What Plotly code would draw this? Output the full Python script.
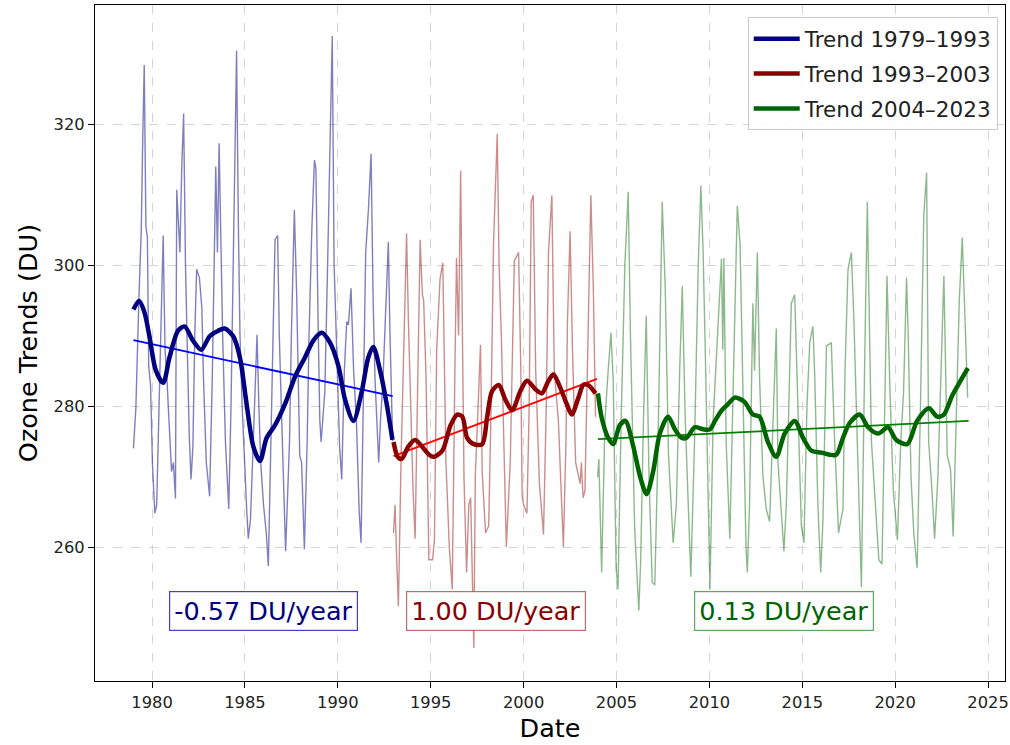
import plotly.graph_objects as go

# ---- Monthly total ozone (DU), traced as vertices of the monthly series ----
p1_years = [1979.00, 1979.13, 1979.30, 1979.42, 1979.50, 1979.58, 1979.67, 1979.75, 1979.82, 1979.92,
            1980.02, 1980.15, 1980.25, 1980.45, 1980.60, 1980.70, 1980.80, 1980.95, 1981.05, 1981.15,
            1981.26, 1981.33, 1981.42, 1981.50, 1981.60, 1981.70, 1981.80, 1981.90, 1982.00, 1982.10,
            1982.20, 1982.30, 1982.40, 1982.55, 1982.68, 1982.77, 1982.92, 1983.10, 1983.25, 1983.43,
            1983.52, 1983.61, 1983.70, 1983.80, 1983.95, 1984.13, 1984.25, 1984.40, 1984.55, 1984.65,
            1984.73, 1984.85, 1985.00, 1985.10, 1985.18, 1985.30, 1985.45, 1985.65, 1985.75, 1985.85,
            1986.00, 1986.15, 1986.26, 1986.35, 1986.50, 1986.62, 1986.76, 1986.85, 1986.98, 1987.19,
            1987.40, 1987.50, 1987.66, 1987.78, 1987.95, 1988.05, 1988.20, 1988.35, 1988.45, 1988.60,
            1988.74, 1988.82, 1988.95, 1989.03, 1989.10, 1989.30, 1989.45, 1989.60, 1989.70, 1989.80,
            1989.90, 1989.99, 1990.10, 1990.21, 1990.35, 1990.48, 1990.57, 1990.71, 1990.85, 1991.00,
            1991.15, 1991.25, 1991.40, 1991.50, 1991.65, 1991.79, 1991.90, 1992.00, 1992.20, 1992.30,
            1992.42, 1992.55, 1992.72, 1992.80, 1992.90, 1992.95]
p1_ozone = [274.0, 279.7, 295.8, 305.0, 318.0, 328.4, 305.4, 304.0, 285.7, 283.0,
            272.0, 264.8, 266.0, 290.0, 304.2, 288.0, 283.9, 276.0, 270.7, 272.0,
            266.9, 310.7, 306.0, 301.8, 314.0, 321.5, 300.0, 285.7, 276.0, 269.6,
            274.3, 290.0, 299.4, 298.2, 294.0, 283.9, 272.0, 267.2, 285.0, 314.0,
            301.8, 317.3, 303.0, 290.0, 275.0, 265.4, 280.0, 305.0, 330.4, 305.0,
            290.4, 280.0, 270.0, 265.0, 261.2, 264.0, 275.0, 290.1, 280.0, 272.0,
            266.0, 262.0, 257.3, 270.0, 290.0, 303.6, 304.2, 290.0, 278.0, 259.4,
            275.0, 290.0, 307.8, 296.4, 273.0, 272.0, 259.7, 275.0, 290.0, 305.0,
            314.9, 313.7, 290.0, 278.0, 274.9, 282.0, 300.0, 318.0, 332.5, 300.0,
            290.0, 281.0, 274.0, 269.6, 285.0, 292.0, 291.5, 296.7, 285.0, 278.0,
            265.0, 260.6, 285.0, 301.8, 308.0, 315.8, 295.0, 283.9, 272.0, 278.2,
            283.0, 292.0, 303.3, 291.0, 280.0, 275.0]

p2_years = [1993.00, 1993.08, 1993.17, 1993.26, 1993.40, 1993.55, 1993.70, 1993.80, 1993.92, 1994.05,
            1994.16, 1994.30, 1994.43, 1994.55, 1994.62, 1994.75, 1994.90, 1995.10, 1995.20, 1995.32,
            1995.50, 1995.65, 1995.82, 1996.00, 1996.16, 1996.30, 1996.39, 1996.50, 1996.61, 1996.79,
            1996.93, 1997.05, 1997.15, 1997.32, 1997.40, 1997.55, 1997.68, 1997.77, 1997.95, 1998.12,
            1998.25, 1998.38, 1998.58, 1998.68, 1998.80, 1999.07, 1999.28, 1999.50, 1999.73, 1999.85,
            1999.92, 2000.00, 2000.18, 2000.30, 2000.41, 2000.52, 2000.65, 2000.85, 2001.07, 2001.22,
            2001.34, 2001.52, 2001.65, 2001.87, 2002.14, 2002.28, 2002.36, 2002.50, 2002.63, 2002.80,
            2003.04, 2003.11, 2003.20, 2003.30, 2003.45, 2003.62, 2003.75, 2003.87]
p2_ozone = [262.0, 266.0, 258.0, 251.6, 272.0, 290.0, 304.5, 292.0, 280.0, 268.0,
            261.2, 285.0, 303.6, 295.8, 295.0, 283.9, 258.2, 258.2, 261.0, 288.0,
            298.0, 300.3, 272.0, 260.0, 254.0, 285.0, 301.0, 290.0, 313.4, 270.0,
            256.4, 266.0, 267.0, 245.7, 270.0, 280.0, 288.7, 270.7, 262.0, 263.0,
            280.0, 303.0, 318.6, 300.0, 290.0, 260.0, 272.0, 300.6, 301.8, 285.0,
            267.2, 266.0, 264.8, 280.0, 309.0, 309.9, 285.0, 269.0, 261.8, 280.0,
            301.8, 309.9, 285.0, 278.0, 260.0, 275.0, 292.0, 304.8, 288.0, 272.0,
            269.0, 272.0, 267.0, 268.0, 290.0, 309.9, 297.0, 278.5]

p3_years = [2003.98, 2004.05, 2004.20, 2004.38, 2004.55, 2004.70, 2004.82, 2004.98, 2005.08, 2005.25,
            2005.45, 2005.63, 2005.75, 2005.98, 2006.20, 2006.30, 2006.45, 2006.60, 2006.75, 2006.92,
            2007.06, 2007.20, 2007.33, 2007.46, 2007.62, 2007.80, 2008.05, 2008.22, 2008.40, 2008.54,
            2008.70, 2009.00, 2009.20, 2009.40, 2009.54, 2009.66, 2009.80, 2009.95, 2010.03, 2010.20,
            2010.45, 2010.65, 2010.72, 2010.78, 2010.90, 2011.10, 2011.30, 2011.50, 2011.65, 2011.80,
            2011.97, 2012.04, 2012.16, 2012.34, 2012.43, 2012.58, 2012.70, 2012.88, 2013.06, 2013.24,
            2013.45, 2013.60, 2013.69, 2014.01, 2014.14, 2014.30, 2014.41, 2014.59, 2014.68, 2014.95,
            2015.09, 2015.25, 2015.40, 2015.57, 2015.66, 2015.84, 2015.99, 2016.11, 2016.30, 2016.56,
            2016.74, 2016.95, 2017.19, 2017.30, 2017.46, 2017.64, 2017.78, 2017.99, 2018.18, 2018.35,
            2018.50, 2018.72, 2018.99, 2019.12, 2019.29, 2019.40, 2019.56, 2019.72, 2019.90, 2020.12,
            2020.30, 2020.45, 2020.61, 2020.70, 2020.85, 2021.00, 2021.18, 2021.36, 2021.54, 2021.69,
            2021.80, 2021.98, 2022.12, 2022.30, 2022.45, 2022.62, 2022.80, 2022.98, 2023.12, 2023.25,
            2023.45, 2023.61, 2023.72, 2023.90]
p3_ozone = [269.9, 272.5, 256.4, 278.0, 285.0, 290.4, 283.9, 257.0, 254.0, 278.0,
            300.0, 310.4, 290.0, 262.4, 251.0, 258.0, 278.0, 292.8, 270.0, 255.0,
            254.6, 270.0, 289.0, 309.0, 297.0, 273.0, 260.6, 266.0, 285.0, 297.0,
            278.0, 255.8, 275.0, 300.0, 311.3, 302.0, 285.0, 265.4, 254.0, 277.9,
            291.0, 300.9, 288.0, 301.0, 275.0, 261.2, 285.0, 308.4, 303.0, 280.0,
            260.0, 256.4, 266.0, 294.6, 285.0, 301.8, 284.0, 270.0, 265.4, 263.6,
            280.0, 291.0, 272.0, 259.4, 266.0, 285.0, 294.6, 295.8, 287.0, 263.0,
            260.6, 280.0, 289.0, 291.3, 285.0, 266.0, 256.4, 263.8, 288.5, 289.0,
            275.0, 262.0, 265.4, 285.0, 299.4, 301.8, 292.0, 272.0, 254.3, 285.0,
            309.0, 275.0, 264.0, 258.2, 257.6, 275.0, 298.5, 282.0, 268.0, 261.0,
            275.0, 282.0, 298.2, 290.0, 270.0, 262.0, 257.0, 280.0, 307.2, 313.1,
            275.0, 268.0, 261.2, 270.0, 285.0, 298.5, 273.0, 271.0, 261.5, 274.0,
            295.0, 303.9, 295.0, 281.2]

# ---- Smoothed (low-pass) ozone for each period ----
s1_years = [1979.00, 1979.30, 1979.58, 1979.86, 1980.20, 1980.60, 1980.94, 1981.40, 1981.75, 1982.20,
            1982.65, 1983.10, 1983.56, 1983.92, 1984.37, 1984.73, 1985.09, 1985.45, 1985.81, 1986.17,
            1986.62, 1987.16, 1987.70, 1988.23, 1988.68, 1989.13, 1989.58, 1990.03, 1990.39, 1990.84,
            1991.29, 1991.64, 1991.91, 1992.27, 1992.63, 1992.94]
s1_ozone = [293.7, 294.9, 293.4, 289.9, 285.1, 283.3, 286.9, 290.7, 291.3, 289.3,
            288.0, 289.9, 290.7, 291.0, 289.9, 286.9, 280.3, 274.3, 272.2, 275.5,
            277.3, 280.3, 284.2, 286.9, 289.3, 290.4, 289.0, 285.7, 280.9, 277.9,
            282.1, 286.9, 288.4, 285.1, 280.3, 275.2]

s2_years = [1993.00, 1993.22, 1993.44, 1993.80, 1994.16, 1994.52, 1994.91, 1995.18, 1995.63, 1996.07,
            1996.43, 1996.70, 1996.96, 1997.32, 1997.77, 1998.04, 1998.30, 1998.66, 1999.02, 1999.38,
            1999.82, 2000.18, 2000.63, 2000.98, 2001.34, 2001.61, 2001.96, 2002.32, 2002.59, 2002.95,
            2003.21, 2003.47, 2003.87]
s2_ozone = [274.9, 272.8, 272.5, 274.3, 275.2, 274.3, 273.1, 272.8, 273.7, 277.3,
            278.8, 278.5, 275.5, 274.6, 274.6, 278.5, 282.1, 283.0, 280.9, 279.4,
            282.1, 283.6, 282.4, 281.8, 283.6, 284.5, 282.7, 280.3, 278.8, 281.2,
            283.0, 283.0, 281.8]

s3_years = [2004.00, 2004.19, 2004.55, 2004.82, 2005.18, 2005.48, 2005.90, 2006.26, 2006.62, 2006.97,
            2007.33, 2007.78, 2008.14, 2008.50, 2008.77, 2009.22, 2009.67, 2010.03, 2010.30, 2010.66,
            2011.01, 2011.37, 2011.89, 2012.34, 2012.70, 2013.15, 2013.60, 2014.05, 2014.59, 2015.04,
            2015.48, 2016.02, 2016.47, 2016.83, 2017.19, 2017.55, 2018.09, 2018.54, 2019.08, 2019.61,
            2020.06, 2020.65, 2021.18, 2021.81, 2022.26, 2022.62, 2023.07, 2023.52, 2023.91]
s3_ozone = [281.8, 278.5, 275.5, 274.6, 277.3, 277.9, 274.3, 270.1, 267.5, 270.7,
            276.1, 278.5, 276.7, 275.5, 275.5, 277.0, 276.7, 276.7, 277.9, 279.4,
            280.3, 281.2, 280.6, 278.8, 278.5, 274.9, 272.8, 276.1, 277.9, 275.5,
            273.7, 273.4, 273.1, 273.1, 275.5, 277.6, 278.8, 277.0, 276.1, 277.0,
            275.2, 274.6, 277.9, 279.7, 278.5, 278.8, 281.5, 283.6, 285.4]

# ---- Linear trends: period bounds, start value and slope (DU/year) ----
trend_start = [1979.0, 1993.0, 2004.0]
trend_end = [1992.95, 2003.95, 2023.95]
trend_y0 = [289.35, 272.9, 275.3]
trend_slope = [-0.57, 1.00, 0.13]
legend_names = ["Trend 1979\u20131993", "Trend 1993\u20132003", "Trend 2004\u20132023"]

x_ticks = [1980, 1985, 1990, 1995, 2000, 2005, 2010, 2015, 2020, 2025]
y_ticks = [260, 280, 300, 320]

thin_colors = ["rgba(0,0,128,0.5)", "rgba(139,0,0,0.45)", "rgba(0,100,0,0.45)"]
smooth_colors = ["#000080", "#8b0000", "#006400"]
trend_colors = ["#0000ff", "#ff0000", "#008000"]
box_borders = ["rgba(0,0,200,0.75)", "rgba(170,60,60,0.75)", "rgba(40,140,40,0.75)"]

FONT = "DejaVu Sans"

fig = go.Figure()

raw = [(p1_years, p1_ozone), (p2_years, p2_ozone), (p3_years, p3_ozone)]
smooth = [(s1_years, s1_ozone), (s2_years, s2_ozone), (s3_years, s3_ozone)]

for i, (xs, ys) in enumerate(raw):
    fig.add_trace(go.Scatter(x=xs, y=ys, mode="lines", showlegend=False,
                             line=dict(color=thin_colors[i], width=1.4)))

for i in range(3):
    x0, x1 = trend_start[i], trend_end[i]
    y0 = trend_y0[i]
    y1 = y0 + trend_slope[i] * (x1 - x0)
    fig.add_trace(go.Scatter(x=[x0, x1], y=[y0, y1], mode="lines", showlegend=False,
                             line=dict(color=trend_colors[i], width=1.8)))

for i, (xs, ys) in enumerate(smooth):
    fig.add_trace(go.Scatter(x=xs, y=ys, mode="lines", name=legend_names[i],
                             legendgroup=f"g{i}",
                             line=dict(color=smooth_colors[i], width=4.5, shape="spline",
                                       smoothing=0.8)))

# rate labels centred on each period
for i in range(3):
    xc = (trend_start[i] + trend_end[i] + 0.05) / 2
    fig.add_annotation(x=xc, y=250.9, xref="x", yref="y",
                       text=f"{trend_slope[i]:.2f} DU/year", showarrow=False,
                       font=dict(family=FONT, size=25.5, color=smooth_colors[i]),
                       bgcolor="white", bordercolor=box_borders[i], borderwidth=1.2,
                       borderpad=4)

axis_common = dict(showline=True, linecolor="black", linewidth=1.2, mirror=True,
                   ticks="outside", ticklen=6, tickcolor="black", tickwidth=1,
                   showgrid=True, gridcolor="#d4d4d4", griddash="dash", gridwidth=1,
                   zeroline=False, tickfont=dict(family=FONT, size=16.3, color="#222"))

fig.update_xaxes(range=[1976.93, 2025.91], tickvals=x_ticks,
                 title=dict(text="Date", font=dict(family=FONT, size=25.5, color="black"), standoff=8),
                 **axis_common)
fig.update_yaxes(range=[241.0, 336.9], tickvals=y_ticks,
                 title=dict(text="Ozone Trends (DU)", font=dict(family=FONT, size=25.5, color="black"),
                            standoff=8),
                 **axis_common)

fig.update_layout(
    width=1010, height=745,
    margin=dict(l=95, r=5, t=5, b=64, autoexpand=False),
    plot_bgcolor="white", paper_bgcolor="white",
    font=dict(family=FONT, color="#222"),
    legend=dict(x=0.992, y=0.982, xanchor="right", yanchor="top",
                bgcolor="rgba(255,255,255,0.85)", bordercolor="#cccccc", borderwidth=1,
                font=dict(family=FONT, size=21.5, color="#222"),
                tracegroupgap=4, itemwidth=46),
)

fig.write_html("out.html")
